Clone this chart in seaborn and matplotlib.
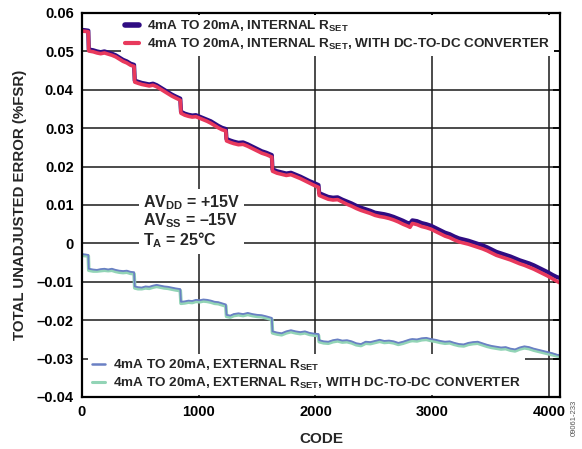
import matplotlib
matplotlib.use("Agg")
import matplotlib.pyplot as plt
from matplotlib.lines import Line2D
import seaborn as sns
import pandas as pd

CODES = [0, 32, 54, 58, 96, 128, 160, 192, 224, 256,
         288, 320, 352, 384, 416, 446, 452, 480, 512, 544,
         576, 608, 640, 672, 704, 736, 768, 800, 842, 848,
         880, 912, 944, 976, 1008, 1040, 1072, 1104, 1136, 1168,
         1200, 1232, 1238, 1270, 1300, 1340, 1380, 1420, 1460, 1500,
         1540, 1580, 1626, 1632, 1670, 1710, 1750, 1790, 1830, 1870,
         1910, 1950, 1990, 2026, 2032, 2070, 2110, 2150, 2190, 2230,
         2270, 2310, 2350, 2390, 2430, 2470, 2510, 2550, 2590, 2630,
         2670, 2710, 2750, 2790, 2810, 2830, 2870, 2910, 2950, 2990,
         3030, 3070, 3110, 3150, 3190, 3230, 3270, 3310, 3350, 3390,
         3430, 3470, 3510, 3550, 3590, 3630, 3670, 3710, 3750, 3790,
         3830, 3870, 3910, 3950, 3990, 4030, 4070, 4095]

INT_RSET = [.0556, .0555, .0554, .0505, .0503, .0500, .0498, .0500, .0497, .0494,
            .0490, .0484, .0478, .0474, .0468, .0465, .0424, .0421, .0418, .0416,
            .0414, .0416, .0412, .0406, .0400, .0394, .0388, .0383, .0377, .0343,
            .0338, .0335, .0333, .0334, .0330, .0326, .0322, .0318, .0312, .0306,
            .0301, .0298, .0272, .0268, .0265, .0262, .0263, .0258, .0252, .0246,
            .0240, .0236, .0230, .0193, .0188, .0185, .0182, .0184, .0179, .0174,
            .0168, .0162, .0157, .0152, .0131, .0126, .0121, .0119, .0120, .0114,
            .0109, .0104, .0098, .0093, .0089, .0085, .0080, .0078, .0076, .0073,
            .0069, .0064, .0059, .0053, .0052, .0060, .0058, .0053, .0050, .0046,
            .0040, .0034, .0028, .0024, .0018, .0013, .0010, .0007, .0003, -.0001,
            -.0005, -.0010, -.0016, -.0022, -.0026, -.0030, -.0034, -.0039, -.0044, -.0048,
            -.0052, -.0057, -.0063, -.0069, -.0075, -.0082, -.0088, -.0090]

INT_RSET_DC = [.0553, .0552, .0551, .0501, .0499, .0496, .0494, .0496, .0493, .0490,
               .0486, .0480, .0474, .0470, .0464, .0461, .0420, .0417, .0414, .0412,
               .0410, .0412, .0408, .0402, .0396, .0390, .0384, .0379, .0373, .0339,
               .0334, .0331, .0329, .0330, .0326, .0322, .0318, .0313, .0307, .0301,
               .0296, .0293, .0267, .0263, .0260, .0257, .0258, .0253, .0247, .0241,
               .0235, .0231, .0225, .0188, .0183, .0180, .0177, .0179, .0174, .0169,
               .0163, .0157, .0151, .0146, .0125, .0120, .0115, .0113, .0114, .0108,
               .0102, .0097, .0091, .0086, .0082, .0078, .0073, .0070, .0068, .0065,
               .0061, .0056, .0050, .0045, .0042, .0052, .0049, .0044, .0041, .0037,
               .0031, .0025, .0019, .0015, .0009, .0004, .0001, -.0002, -.0006, -.0010,
               -.0014, -.0019, -.0025, -.0031, -.0035, -.0039, -.0043, -.0048, -.0053, -.0057,
               -.0062, -.0067, -.0073, -.0079, -.0085, -.0092, -.0099, -.0103]

EXT_RSET = [-.0028, -.0029, -.0030, -.0066, -.0068, -.0069, -.0067, -.0066, -.0068, -.0066,
            -.0069, -.0071, -.0072, -.0071, -.0074, -.0075, -.0112, -.0114, -.0115, -.0112,
            -.0113, -.0110, -.0108, -.0110, -.0112, -.0113, -.0115, -.0117, -.0119, -.0152,
            -.0151, -.0149, -.0150, -.0147, -.0148, -.0146, -.0147, -.0149, -.0152, -.0153,
            -.0156, -.0159, -.0186, -.0188, -.0184, -.0182, -.0184, -.0181, -.0184, -.0186,
            -.0187, -.0190, -.0194, -.0229, -.0232, -.0234, -.0229, -.0226, -.0229, -.0231,
            -.0229, -.0233, -.0235, -.0236, -.0252, -.0255, -.0256, -.0252, -.0250, -.0253,
            -.0252, -.0255, -.0260, -.0262, -.0256, -.0257, -.0254, -.0251, -.0254, -.0253,
            -.0255, -.0259, -.0256, -.0252, -.0250, -.0249, -.0250, -.0247, -.0246, -.0249,
            -.0251, -.0254, -.0256, -.0255, -.0259, -.0262, -.0263, -.0259, -.0257, -.0256,
            -.0260, -.0264, -.0267, -.0269, -.0271, -.0270, -.0274, -.0276, -.0271, -.0268,
            -.0270, -.0274, -.0277, -.0280, -.0283, -.0286, -.0290, -.0291]

EXT_RSET_DC = [-.0031, -.0032, -.0033, -.0070, -.0072, -.0072, -.0071, -.0070, -.0071, -.0070,
               -.0073, -.0075, -.0076, -.0075, -.0078, -.0079, -.0116, -.0118, -.0118, -.0116,
               -.0117, -.0114, -.0112, -.0114, -.0116, -.0117, -.0119, -.0121, -.0123, -.0156,
               -.0155, -.0153, -.0154, -.0151, -.0152, -.0150, -.0151, -.0153, -.0156, -.0157,
               -.0160, -.0163, -.0190, -.0192, -.0188, -.0186, -.0188, -.0185, -.0188, -.0190,
               -.0191, -.0194, -.0198, -.0233, -.0236, -.0238, -.0233, -.0230, -.0233, -.0235,
               -.0233, -.0237, -.0239, -.0240, -.0256, -.0259, -.0260, -.0256, -.0254, -.0257,
               -.0256, -.0259, -.0264, -.0266, -.0260, -.0261, -.0258, -.0255, -.0258, -.0257,
               -.0259, -.0263, -.0260, -.0256, -.0254, -.0253, -.0254, -.0251, -.0250, -.0253,
               -.0255, -.0258, -.0260, -.0259, -.0263, -.0266, -.0267, -.0263, -.0261, -.0260,
               -.0264, -.0268, -.0271, -.0273, -.0275, -.0274, -.0278, -.0280, -.0275, -.0272,
               -.0274, -.0278, -.0281, -.0284, -.0287, -.0290, -.0293, -.0294]

LABELS = [r"4mA TO 20mA, INTERNAL R$_{\mathrm{SET}}$",
          r"4mA TO 20mA, INTERNAL R$_{\mathrm{SET}}$, WITH DC-TO-DC CONVERTER",
          r"4mA TO 20mA, EXTERNAL R$_{\mathrm{SET}}$",
          r"4mA TO 20mA, EXTERNAL R$_{\mathrm{SET}}$, WITH DC-TO-DC CONVERTER"]
XTICKS = [0, 1000, 2000, 3000, 4000]
YTICKS = [-0.04, -0.03, -0.02, -0.01, 0, 0.01, 0.02, 0.03, 0.04, 0.05, 0.06]
YTICK_LABELS = ["\u20130.04", "\u20130.03", "\u20130.02", "\u20130.01", "0",
                "0.01", "0.02", "0.03", "0.04", "0.05", "0.06"]

sns.set_style("white")
plt.rcParams["font.family"] = ["Liberation Sans", "DejaVu Sans"]
plt.rcParams["font.weight"] = "bold"
plt.rcParams["mathtext.fontset"] = "custom"
plt.rcParams["mathtext.rm"] = "Liberation Sans:bold"
plt.rcParams["mathtext.it"] = "Liberation Sans:bold"
plt.rcParams["mathtext.bf"] = "Liberation Sans:bold"
plt.rcParams["mathtext.default"] = "rm"

df = pd.DataFrame({
    "code": CODES * 4,
    "err": INT_RSET + INT_RSET_DC + EXT_RSET + EXT_RSET_DC,
    "series": sum([[l] * len(CODES) for l in LABELS], []),
})

colors = {LABELS[0]: "#2f0c82", LABELS[1]: "#e8395c",
          LABELS[2]: "#6a80c4", LABELS[3]: "#92d4b6"}
widths = {LABELS[0]: 3.0, LABELS[1]: 2.6, LABELS[2]: 1.3, LABELS[3]: 2.6}
zorders = {LABELS[0]: 2.0, LABELS[1]: 2.2, LABELS[2]: 2.4, LABELS[3]: 2.1}

fig = plt.figure(figsize=(5.82, 4.49), dpi=100)
ax = fig.add_axes([82 / 582, 1 - 397 / 449, 478 / 582, 384 / 449])

for lab in [LABELS[0], LABELS[1], LABELS[3], LABELS[2]]:
    sns.lineplot(data=df[df["series"] == lab], x="code", y="err",
                 color=colors[lab], lw=widths[lab], ax=ax,
                 zorder=zorders[lab], legend=False)

ax.set_xlim(0, 4095)
ax.set_ylim(-0.04, 0.06)
ax.set_xticks(XTICKS)
ax.set_xticklabels([str(t) for t in XTICKS])
ax.set_yticks(YTICKS)
ax.set_yticklabels(YTICK_LABELS)
ax.tick_params(direction="in", length=5, width=1.2, top=True, right=True,
               labelsize=10.5, pad=6, colors="black")
for lbl in ax.get_xticklabels() + ax.get_yticklabels():
    lbl.set_fontweight("bold")
ax.grid(True, color="#1a1a1a", lw=1.1)
ax.set_axisbelow(True)
for s in ax.spines.values():
    s.set_color("black")
    s.set_linewidth(1.6)

ax.set_xlabel("CODE", fontsize=11, fontweight="bold", labelpad=9)
ax.set_ylabel("TOTAL UNADJUSTED ERROR (%FSR)", fontsize=10.8, fontweight="bold", labelpad=7)

h_top = [Line2D([], [], color=colors[LABELS[0]], lw=4),
         Line2D([], [], color=colors[LABELS[1]], lw=3)]
leg1 = ax.legend(h_top, LABELS[:2], loc="upper left", bbox_to_anchor=(0.078, 1.0),
                 frameon=True, fancybox=False, facecolor="white", edgecolor="none",
                 framealpha=1, prop={"size": 9.7, "weight": "bold"},
                 handlelength=1.0, handletextpad=0.6, labelspacing=0.2,
                 borderpad=0.3, borderaxespad=0.15)
ax.add_artist(leg1)
h_bot = [Line2D([], [], color=colors[LABELS[2]], lw=1.8),
         Line2D([], [], color=colors[LABELS[3]], lw=2.2)]
leg2 = ax.legend(h_bot, LABELS[2:], loc="lower left", bbox_to_anchor=(0.008, 0.0),
                 frameon=True, fancybox=False, facecolor="white", edgecolor="none",
                 framealpha=1, prop={"size": 9.7, "weight": "bold"},
                 handlelength=1.0, handletextpad=0.6, labelspacing=0.2,
                 borderpad=0.3, borderaxespad=0.15)

ax.text(525, 0.0057,
        "AV$_{\\mathrm{DD}}$ = +15V\nAV$_{\\mathrm{SS}}$ = \u201315V\nT$_{\\mathrm{A}}$ = 25°C",
        fontsize=11.5, fontweight="bold", ha="left", va="center", linespacing=1.0,
        zorder=4, bbox=dict(facecolor="white", edgecolor="none", pad=3))

fig.text(0.986, 0.03, "09061-233", rotation=90, fontsize=5.5, color="#555555",
         fontweight="normal", ha="center", va="bottom")

fig.savefig("out.png", dpi=100)
